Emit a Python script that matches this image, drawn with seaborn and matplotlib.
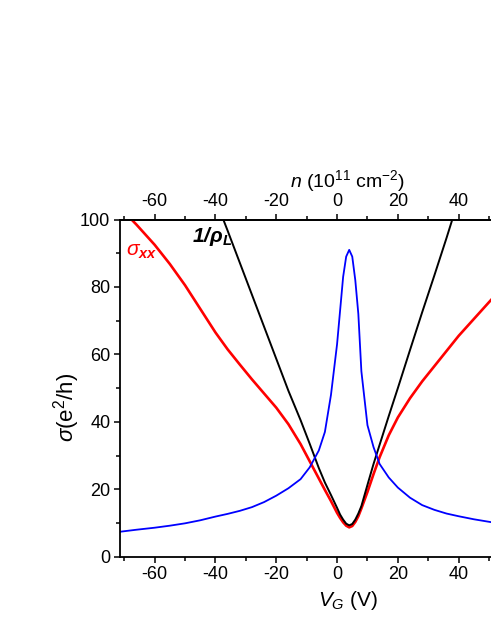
import numpy as np
import seaborn as sns
import matplotlib.pyplot as plt
from matplotlib.ticker import FixedLocator

sns.set_style("ticks")
plt.rcParams['font.family'] = ['Liberation Sans', 'DejaVu Sans']
plt.rcParams['axes.unicode_minus'] = False
plt.rcParams['mathtext.fontset'] = 'custom'
plt.rcParams['mathtext.rm'] = 'Liberation Sans'
plt.rcParams['mathtext.it'] = 'Liberation Sans:italic'
plt.rcParams['mathtext.bf'] = 'Liberation Sans:bold:italic'
plt.rcParams['text.color'] = 'black'
plt.rcParams['axes.labelcolor'] = 'black'

# gate voltage (V) and the three traces
vg = [-71.4, -66, -60, -55, -50, -45, -40, -36, -32, -28, -24, -20, -16, -12, -9, -6, -4, -2,
      0, 1, 2, 3, 4, 5, 6, 7, 8, 10, 12, 14, 17, 20, 24, 28, 32, 36, 40, 45, 51]
sigma_xx = [103.5, 98.5, 92.5, 86.8, 80.5, 73.5, 66.5, 61.5, 57, 52.6, 48.4, 44.2, 39.3, 33.4, 28.3, 23.2, 19.8, 16.5,
            13, 11.5, 10.2, 9.2, 8.7, 9.1, 10.3, 12, 14.3, 19.2, 24.5, 29.5, 36, 41.3, 47, 52, 56.5, 61, 65.5, 70.5, 76.5]
inv_rho_l = [np.nan, np.nan, np.nan, np.nan, np.nan, np.nan, 106, 96.7, 87.2, 77.7, 68.2, 58.7, 49.2, 40.5, 33.5, 26.3, 22, 18.3,
             14.5, 12.5, 11, 9.8, 9.3, 9.7, 11, 12.8, 15, 21.3, 27.5, 33.2, 41.7, 50, 61.3, 72.5, 83.4, 94.5, 106, np.nan, np.nan]
blue_trace = [7.4, 8.0, 8.6, 9.2, 9.9, 10.8, 11.9, 12.7, 13.6, 14.7, 16.2, 18.1, 20.3, 23.0, 26.5, 31.5, 37, 48,
              63, 73, 83, 89, 91, 89, 82, 72, 55, 39, 32.5, 27.5, 23.5, 20.5, 17.5, 15.3, 13.9, 12.8, 12.0, 11.1, 10.2]

x_major = [-60, -40, -20, 0, 20, 40]
x_minor = [-70, -50, -30, -10, 10, 30, 50]
y_major = [0, 20, 40, 60, 80, 100]
y_minor = [10, 30, 50, 70, 90]

fig = plt.figure(figsize=(4.91, 6.35), dpi=100)
# axes runs past the right edge, the picture is cropped there
ax = fig.add_axes([0.2444, 0.1233, 456 / 491, 0.531])

sns.lineplot(x=vg, y=sigma_xx, color='red', lw=1.9, ax=ax)
sns.lineplot(x=vg, y=inv_rho_l, color='black', lw=1.4, ax=ax)
sns.lineplot(x=vg, y=blue_trace, color='blue', lw=1.3, ax=ax)

ax.set_xlim(-71.4, 78.6)
ax.set_ylim(0, 100)
ax.xaxis.set_major_locator(FixedLocator(x_major))
ax.xaxis.set_minor_locator(FixedLocator(x_minor))
ax.yaxis.set_major_locator(FixedLocator(y_major))
ax.yaxis.set_minor_locator(FixedLocator(y_minor))
ax.tick_params(which='major', direction='out', length=4.5, width=1.1, labelsize=13,
               colors='black', pad=2.5)
ax.tick_params(which='minor', direction='out', length=3, width=1.1, colors='black')
for s in ax.spines.values():
    s.set_linewidth(1.3)
    s.set_color('black')

ax.set_xlabel(r'$V_G$ (V)', fontsize=15)
ax.set_ylabel(r'$\sigma$(e$^2$/h)', fontsize=16)
ax.yaxis.set_label_coords(-0.083, 0.444)

top = ax.secondary_xaxis('top', functions=(lambda v: v, lambda v: v))
top.xaxis.set_major_locator(FixedLocator(x_major))
top.xaxis.set_minor_locator(FixedLocator(x_minor))
top.tick_params(which='major', direction='out', length=4.5, width=1.1, labelsize=13,
                colors='black', pad=2.5)
top.tick_params(which='minor', direction='out', length=3, width=1.1, colors='black')
top.spines['top'].set_linewidth(1.3)
top.spines['top'].set_color('black')
top.set_xlabel(r'$n$ (10$^{11}$ cm$^{-2}$)', fontsize=14)

ax.text(-69.3, 89.4, r'$\sigma_{\mathbf{xx}}$', color='red', fontsize=15)
ax.text(-47.7, 93.3, r'$\mathbf{1/\rho_{L}}$', color='black', fontsize=15)

fig.savefig('out.png', dpi=100)
